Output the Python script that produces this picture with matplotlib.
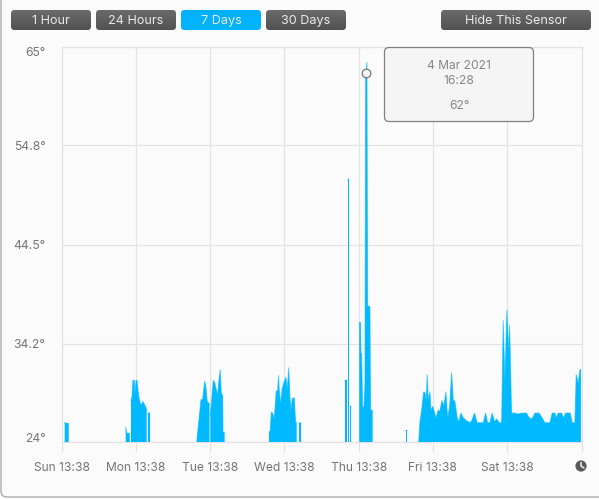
import numpy as np
from matplotlib import pyplot as plt
from matplotlib.patches import FancyBboxPatch, Circle

nan = float('nan')

# days since Sun 13:38, nan splits the gaps where the sensor has no reading
sun_mon_days = [0.043, 0.097, nan,
                0.864, 0.882, 0.918, nan,
                0.935, 0.949, 0.962, 0.980, 0.989, 1.003, 1.016, 1.030, 1.043, 1.057,
                1.070, 1.097, 1.135, 1.147, nan,
                1.160, 1.187, nan]
sun_mon_temps = [26, 25.9, nan,
                 25.5, 24.9, 24.9, nan,
                 28.3, 28.7, 30.4, 30.4, 29.0, 30.4, 30.4, 29.4, 28.6, 28.2,
                 27.8, 28.2, 27.6, 27.4, nan,
                 27.0, 27.0, nan]

tue_days = [1.820, 1.878, 1.900, 1.927, 1.941, 1.962, 1.985, 1.993, nan,
            2.004, 2.022, 2.043, 2.062, 2.079, 2.102, 2.120, 2.137, 2.151, 2.170,
            2.174, 2.196, nan]
tue_temps = [24, 28.4, 28.4, 30.3, 29.9, 28.2, 28, 28, nan,
             26.8, 28.4, 30.4, 30.2, 29.6, 28.9, 30.5, 31.5, 29.1, 28.8,
             25, 25, nan]

wed_days = [2.793, 2.810, 2.824, 2.843, 2.864, 2.891, 2.910, 2.923, 2.931, 2.950,
            2.972, 2.999, 3.021, 3.039, 3.058, 3.075, 3.089, 3.106, 3.133, 3.152,
            3.166, nan, 3.196, 3.219, nan]
wed_temps = [25, 25.2, 27.1, 27, 26.4, 29.3, 29.3, 30.9, 29.4, 28,
             29.6, 30.3, 30.7, 29.4, 31.7, 28.7, 27.3, 28.5, 28.6, 26,
             26, nan, 26, 26, nan]

thu_days = [3.812, 3.843, nan, 3.853, 3.865, nan, 3.882, 3.900, nan,
            4.008, 4.027, 4.031, 4.040, 4.054, 4.071, 4.085, 4.094, 4.112, 4.121,
            4.143, 4.152, 4.161, 4.188, nan]
thu_temps = [30.4, 30.4, nan, 51.3, 51.3, nan, 27.7, 27.7, nan,
             36.4, 36.4, 33.2, 33.2, 27.6, 27.6, 30, 62, 63.4, 38.1,
             38.1, 38, 27.3, 27.3, nan]

fri_days = [4.633, 4.654, nan,
            4.808, 4.825, 4.848, 4.875, 4.896, 4.910, 4.923, 4.937, 4.960, 4.973,
            4.996, 5.017, 5.040, 5.071, 5.094, 5.121, 5.148, 5.175, 5.198, 5.225,
            5.252, 5.273, 5.296, 5.327, 5.350, 5.377, 5.408, 5.454, 5.498, 5.521,
            5.561, 5.596, 5.677, 5.709, 5.736, 5.767, 5.798, 5.830, 5.857, 5.892]
fri_temps = [25.2, 25.2, nan,
             24, 26.1, 27.3, 29.2, 29.1, 28.2, 31, 28.4, 29.2, 27.3,
             27.7, 27.2, 26.5, 27.3, 27.2, 28.3, 27.8, 29.2, 26.5, 27.7,
             31.2, 28.4, 28.2, 26.5, 26.1, 27, 26.5, 26.2, 26, 26.2,
             27, 26, 26, 27, 26, 26, 27, 26.1, 26.4, 26]

sat_days = [5.925, 5.946, 5.969, 5.996, 6.019, 6.032, 6.059, 6.104, 6.148, 6.194,
            6.261, 6.296, 6.336, 6.373, 6.427, 6.463, 6.507, 6.575, 6.606, 6.642,
            6.660, 6.686, 6.732, 6.759, 6.786, 6.848, 6.875, 6.911, 6.929, 6.956,
            6.979, 6.992]
sat_temps = [26, 36.6, 30.4, 37.7, 33.5, 36.1, 27, 27, 26.9, 27,
             27, 26.5, 26.4, 27, 27, 26.6, 26, 26, 27, 27,
             26.5, 27, 27, 26.5, 27, 27, 26, 26, 31, 30.1,
             31.5, 31.5]

y_ticks = [24, 34.2, 44.5, 54.8, 65]
y_labels = ['24°', '34.2°', '44.5°', '54.8°', '65°']
x_ticks = [0, 1, 2, 3, 4, 5, 6, 7]
x_labels = ['Sun 13:38', 'Mon 13:38', 'Tue 13:38', 'Wed 13:38', 'Thu 13:38',
            'Fri 13:38', 'Sat 13:38', '']

selected_day = 4.100
selected_temp = 62.3

buttons = ['1 Hour', '24 Hours', '7 Days', '30 Days', 'Hide This Sensor']
button_left = [11, 96, 181, 266, 441]
button_right = [91, 176, 261, 346, 591]
active_button = '7 Days'

plt.rcParams['font.family'] = ['Inter', 'DejaVu Sans']

BG = '#fbfbfb'
BLUE = '#00b9ff'
GRID = '#e3e3e3'
LABEL = '#767676'

W, H = 599, 499
fig = plt.figure(figsize=(W / 100, H / 100), dpi=100, facecolor='white')

# window panel and controls are in pixel coordinates
chrome = fig.add_axes([0, 0, 1, 1], zorder=0)
chrome.set_xlim(0, W)
chrome.set_ylim(H, 0)
chrome.axis('off')
chrome.add_patch(FancyBboxPatch((1, -30), 610, 527, boxstyle='round,pad=0,rounding_size=6',
                                fc=BG, ec='#a9adb3', lw=1))

left = 61.5
right = 581.5
top = 47
bottom = 442
ax = fig.add_axes([left / W, 1 - bottom / H, (right - left) / W, (bottom - top) / H], zorder=1)
ax.set_facecolor('none')

days = np.array(sun_mon_days + tue_days + wed_days + thu_days + fri_days + sat_days)
temps = np.array(sun_mon_temps + tue_temps + wed_temps + thu_temps + fri_temps + sat_temps)
ax.fill_between(days, 24, temps, color=BLUE, lw=0, zorder=3)
ax.plot(days, temps, color=BLUE, lw=0.7, alpha=0.6, zorder=3)

ax.set_xlim(0, 7)
ax.set_ylim(24, 65)
ax.set_xticks(x_ticks)
ax.set_xticklabels(x_labels)
ax.set_yticks(y_ticks)
ax.set_yticklabels([])
ax.grid(True, color=GRID, lw=0.85)
ax.set_axisbelow(True)
for side in ax.spines:
    ax.spines[side].set_color(GRID)
    ax.spines[side].set_linewidth(0.85)
ax.tick_params(axis='x', length=7.2, width=0.85, color=GRID, labelcolor=LABEL, labelsize=8.7, pad=7.5)
ax.tick_params(axis='y', length=0)

# end labels sit inside the axis range, so they are nudged off their gridlines
for tick, label in zip(y_ticks, y_labels):
    nudge = {24: 2, 65: -4.6}.get(tick, -1)
    ax.annotate(label, (0, tick), xycoords=('axes fraction', 'data'), xytext=(-11.5, nudge),
                textcoords='offset points', ha='right', va='center', color=LABEL, fontsize=8.7)

ax.plot([selected_day], [selected_temp], 'o', ms=6.2, mfc='#f4f4f4', mec='#777777',
        mew=0.9, zorder=5, clip_on=False)

# overlay for things that sit on top of the plot
over = fig.add_axes([0, 0, 1, 1], zorder=2)
over.axis('off')
over.patch.set_alpha(0)

grad = np.linspace(0, 1, 32).reshape(-1, 1)
for name, x0, x1 in zip(buttons, button_left, button_right):
    box = FancyBboxPatch((x0, 10), x1 - x0, 20, boxstyle='round,pad=0,rounding_size=3.5',
                         fc='none', ec='none')
    over.add_patch(box)
    if name == active_button:
        colors = np.dstack([np.zeros_like(grad), 0.69 + 0.02 * grad, np.ones_like(grad)])
    else:
        colors = np.dstack([0.42 - 0.10 * grad] * 3)
    im = over.imshow(colors, extent=(x0, x1, 30, 10), aspect='auto', zorder=2)
    im.set_clip_path(box)
    over.text((x0 + x1) / 2, 20.8, name, color='#e9e9e9', fontsize=9.1, ha='center', va='center', zorder=3)
over.set_xlim(0, W)
over.set_ylim(H, 0)

over.add_patch(FancyBboxPatch((384.5, 47.5), 149, 74, boxstyle='round,pad=0,rounding_size=4.5',
                              fc='#f5f5f5', ec='#808080', lw=0.9, zorder=4))
tip_x = 459
over.text(tip_x, 65.5, '4 Mar 2021', color='#888888', fontsize=8.7, ha='center', va='center', zorder=5)
over.text(tip_x, 80.5, '16:28', color='#888888', fontsize=8.7, ha='center', va='center', zorder=5)
over.text(tip_x, 105.5, '62°', color='#888888', fontsize=8.7, ha='center', va='center', zorder=5)

# clock icon at the end of the time axis
over.add_patch(Circle((581, 466), 5.6, fc='#5a5a5a', ec='none', zorder=4))
over.plot([581, 581, 584], [462.5, 466, 468], color='white', lw=1, solid_capstyle='round', zorder=5)

fig.savefig('out.png', dpi=100, facecolor=fig.get_facecolor())
